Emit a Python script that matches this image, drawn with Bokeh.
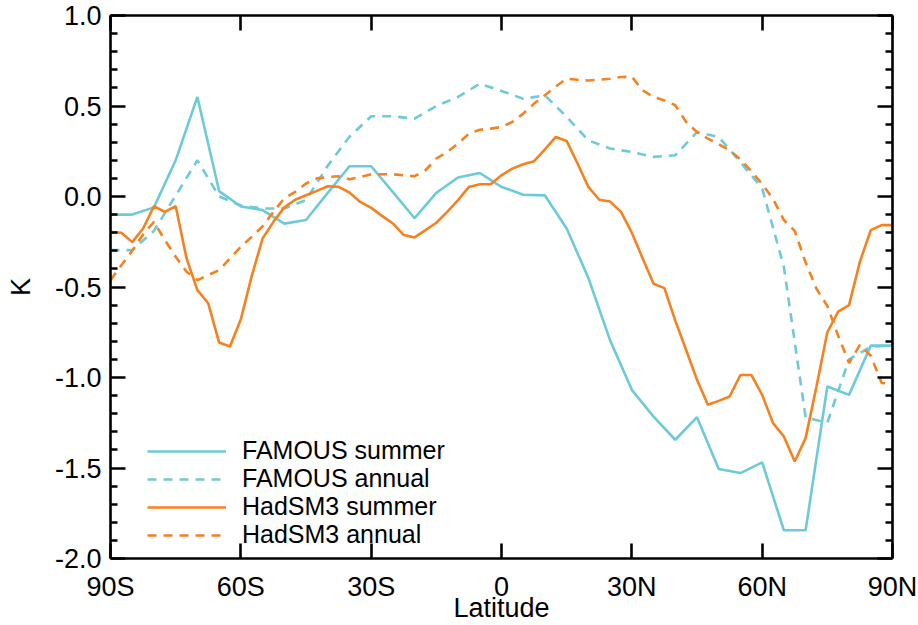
from bokeh.plotting import figure
from bokeh.models import FixedTicker, LinearAxis, Legend, LegendItem, Range1d
from bokeh.embed import file_html
from bokeh.resources import INLINE

# ---------------- data ----------------
famous_lat = [-90, -85, -80, -75, -70, -65, -60, -55, -50, -45, -40, -35, -30, -25, -20, -15, -10, -5,
              0, 5, 10, 15, 20, 25, 30, 35, 40, 45, 50, 55, 60, 65, 70, 75, 80, 85, 90]
famous_summer = [-0.10, -0.10, -0.06, 0.20, 0.55, 0.03, -0.055, -0.075, -0.15, -0.13, 0.02, 0.167, 0.167,
                 0.024, -0.12, 0.02, 0.105, 0.13, 0.053, 0.01, 0.006, -0.177, -0.45, -0.795, -1.068,
                 -1.216, -1.344, -1.219, -1.506, -1.528, -1.469, -1.844, -1.844, -1.05, -1.096, -0.824, -0.824]
famous_annual = [-0.296, -0.296, -0.19, 0.005, 0.20, 0.0, -0.05, -0.066, -0.066, -0.02, 0.17, 0.33, 0.443,
                 0.443, 0.43, 0.50, 0.55, 0.623, 0.583, 0.54, 0.559, 0.44, 0.31, 0.265, 0.246, 0.219,
                 0.228, 0.356, 0.329, 0.19, 0.045, -0.39, -1.22, -1.25, -0.90, -0.83, -0.824]

hadsm3_lat = [-90, -87.5, -85, -82.5, -80, -77.5, -75, -72.5, -70, -67.5, -65, -62.5, -60, -57.5, -55, -52.5,
              -50, -47.5, -45, -42.5, -40, -37.5, -35, -32.5, -30, -27.5, -25, -22.5, -20, -17.5, -15, -12.5,
              -10, -7.5, -5, -2.5, 0, 2.5, 5, 7.5, 10, 12.5, 15, 17.5, 20, 22.5, 25, 27.5, 30, 32.5, 35, 37.5,
              40, 42.5, 45, 47.5, 50, 52.5, 55, 57.5, 60, 62.5, 65, 67.5, 70, 72.5, 75, 77.5, 80, 82.5, 85,
              87.5, 90]
hadsm3_summer = [-0.197, -0.20, -0.252, -0.177, -0.054, -0.085, -0.053, -0.342, -0.517, -0.59, -0.807, -0.829,
                 -0.678, -0.44, -0.232, -0.14, -0.06, -0.018, 0.007, 0.031, 0.057, 0.053, 0.022, -0.03,
                 -0.063, -0.107, -0.149, -0.213, -0.226, -0.186, -0.145, -0.085, -0.02, 0.053, 0.068, 0.068,
                 0.117, 0.154, 0.178, 0.195, 0.26, 0.329, 0.307, 0.182, 0.053, -0.018, -0.028, -0.085, -0.20,
                 -0.342, -0.482, -0.506, -0.686, -0.848, -1.013, -1.151, -1.129, -1.105, -0.986, -0.986,
                 -1.096, -1.252, -1.326, -1.464, -1.335, -1.05, -0.75, -0.636, -0.60, -0.36, -0.186, -0.158,
                 -0.158]
hadsm3_annual = [-0.462, -0.38, -0.30, -0.21, -0.14, -0.24, -0.333, -0.416, -0.462, -0.434, -0.407, -0.342,
                 -0.278, -0.223, -0.165, -0.085, -0.01, 0.025, 0.072, 0.10, 0.108, 0.112, 0.095, 0.108, 0.123,
                 0.123, 0.123, 0.117, 0.112, 0.145, 0.21, 0.246, 0.292, 0.347, 0.369, 0.375, 0.384, 0.412,
                 0.458, 0.513, 0.559, 0.608, 0.651, 0.645, 0.641, 0.645, 0.651, 0.66, 0.662, 0.586, 0.55,
                 0.531, 0.504, 0.412, 0.356, 0.32, 0.289, 0.255, 0.205, 0.14, 0.068, -0.014, -0.13, -0.19,
                 -0.365, -0.51, -0.605, -0.77, -0.92, -0.82, -0.88, -1.03, -1.035]

x_ticks = [-90, -60, -30, 0, 30, 60, 90]
x_tick_labels = ["90S", "60S", "30S", "0", "30N", "60N", "90N"]
y_ticks = [-2.0, -1.5, -1.0, -0.5, 0.0, 0.5, 1.0]
y_tick_labels = ["-2.0", "-1.5", "-1.0", "-0.5", "0.0", "0.5", "1.0"]
y_minor = [-1.9, -1.8, -1.7, -1.6, -1.4, -1.3, -1.2, -1.1, -0.9, -0.8, -0.7, -0.6, -0.4, -0.3, -0.2,
           -0.1, 0.1, 0.2, 0.3, 0.4, 0.6, 0.7, 0.8, 0.9]

series_labels = ["FAMOUS summer", "FAMOUS annual", "HadSM3 summer", "HadSM3 annual"]

CYAN = "#6dcad8"
ORANGE = "#f7811f"
FONT = "Liberation Sans"
FS = "27px"
LEG_FS = "25px"
LW = 2.6
AX_LW = 2.6

p = figure(width=918, height=625, output_backend="svg", toolbar_location=None,
           x_range=Range1d(-90, 90), y_range=Range1d(-2.0, 1.0),
           min_border_left=110, min_border_right=26, min_border_top=15, min_border_bottom=66,
           x_axis_label="Latitude", y_axis_label="K")
p.grid.visible = False
p.outline_line_color = None
p.background_fill_color = "white"
p.border_fill_color = "white"

r1 = p.line(famous_lat, famous_summer, line_color=CYAN, line_width=LW)
r2 = p.line(famous_lat, famous_annual, line_color=CYAN, line_width=LW, line_dash="9 7")
r3 = p.line(hadsm3_lat, hadsm3_summer, line_color=ORANGE, line_width=LW)
r4 = p.line(hadsm3_lat, hadsm3_annual, line_color=ORANGE, line_width=LW, line_dash="9 7")


def style_axis(ax, ticker):
    ax.ticker = ticker
    ax.axis_line_width = AX_LW
    ax.axis_line_color = "black"
    ax.major_tick_line_width = AX_LW
    ax.minor_tick_line_width = AX_LW
    ax.major_tick_line_color = "black"
    ax.minor_tick_line_color = "black"
    ax.major_tick_in = 15
    ax.major_tick_out = 0
    ax.minor_tick_in = 7
    ax.minor_tick_out = 0
    ax.major_label_text_font = FONT
    ax.major_label_text_font_size = FS
    ax.major_label_text_color = "black"
    ax.axis_label_text_font = FONT
    ax.axis_label_text_font_size = FS
    ax.axis_label_text_font_style = "normal"
    ax.axis_label_text_color = "black"


xa = p.xaxis[0]
style_axis(xa, FixedTicker(ticks=x_ticks, minor_ticks=[]))
xa.major_label_overrides = dict(zip(x_ticks, x_tick_labels))
xa.major_label_standoff = 13
xa.axis_label_standoff = -12

ya = p.yaxis[0]
style_axis(ya, FixedTicker(ticks=y_ticks, minor_ticks=y_minor))
ya.major_label_overrides = dict(zip(y_ticks, y_tick_labels))
ya.major_label_standoff = 9
ya.axis_label_standoff = 16

top = LinearAxis()
style_axis(top, FixedTicker(ticks=x_ticks, minor_ticks=[]))
top.major_label_overrides = {t: "" for t in x_ticks}
top.major_label_standoff = 0
p.add_layout(top, "above")

right = LinearAxis()
style_axis(right, FixedTicker(ticks=y_ticks, minor_ticks=y_minor))
right.major_label_overrides = {t: "" for t in y_ticks}
right.major_label_standoff = 0
p.add_layout(right, "right")

# legend: one entry per row, rows stacked with a fixed pitch
renderers = [r1, r2, r3, r4]
row_pitch = 28
for i, (lab, rend) in enumerate(zip(series_labels, renderers)):
    lg = Legend(items=[LegendItem(label=lab, renderers=[rend])],
                location=(37, 9 + row_pitch * (len(series_labels) - 1 - i)),
                label_text_font=FONT, label_text_font_size=LEG_FS, label_text_color="black",
                glyph_width=79, glyph_height=26, label_height=26, label_standoff=16,
                spacing=0, padding=0, margin=0, border_line_color=None,
                background_fill_alpha=0)
    p.add_layout(lg)

open("out.html", "w").write(file_html(p, INLINE))
